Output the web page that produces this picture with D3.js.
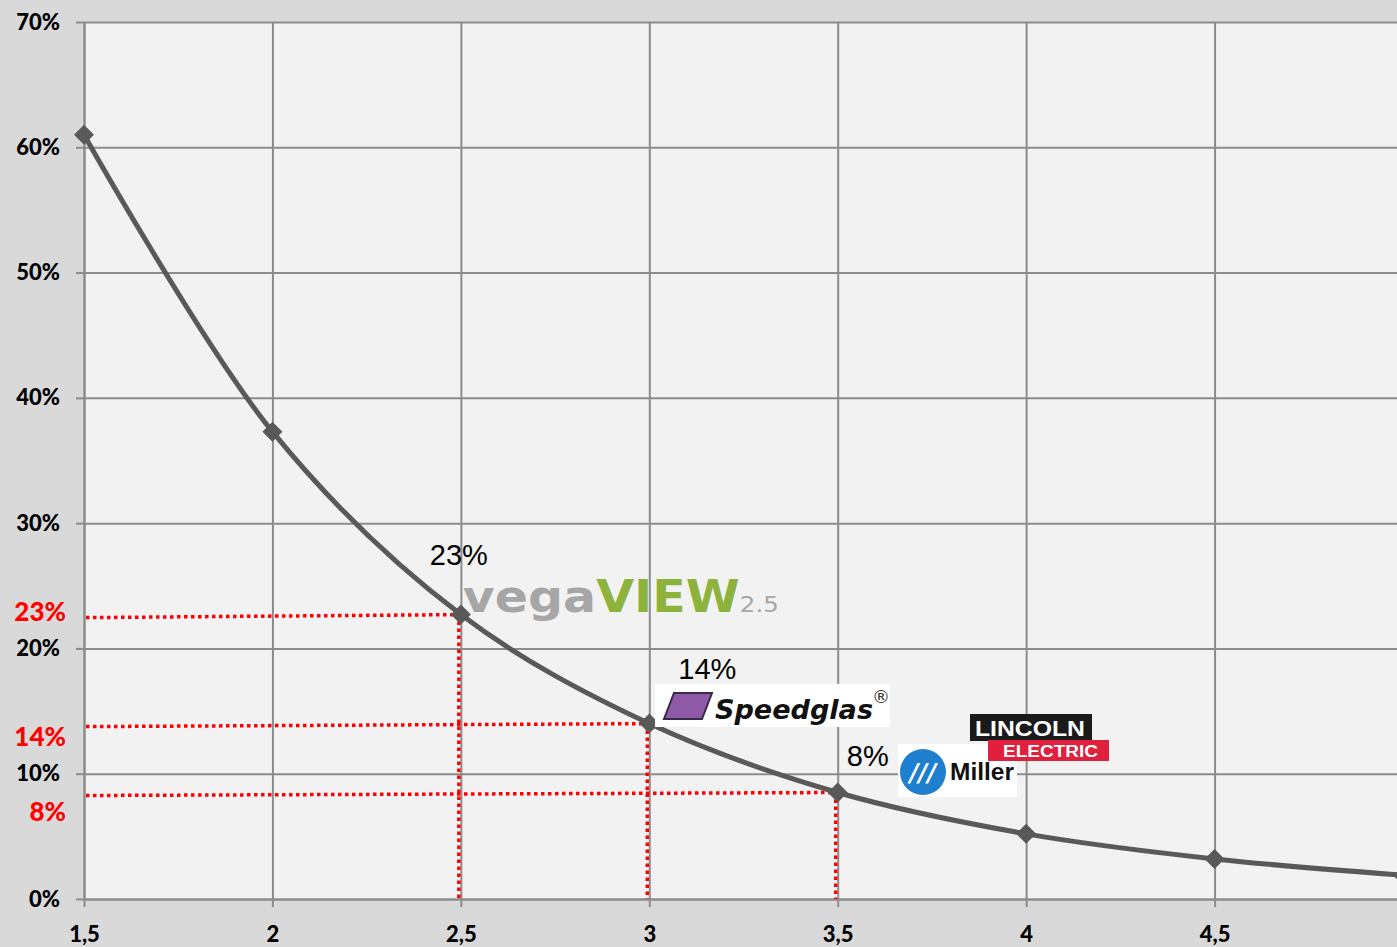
<!DOCTYPE html>
<html>
<head>
<meta charset="utf-8">
<script src="https://cdn.jsdelivr.net/npm/d3@7"></script>
<style>
    body { margin: 0; background: #d9d9d9; }
    svg { display: block; }
</style>
</head>
<body>
<svg id="vis" width="1397" height="947"></svg>
<script>
// chart values
const xValues = [1.5, 2, 2.5, 3, 3.5, 4, 4.5, 5];
const yValues = [0.61, 0.373, 0.227, 0.14, 0.085, 0.052, 0.032, 0.019];
const xTicks = [1.5, 2, 2.5, 3, 3.5, 4, 4.5];
const yTicks = [0, 0.1, 0.2, 0.3, 0.4, 0.5, 0.6, 0.7];

// highlighted points: index into the series, the red label on the axis
const markIndex = [2, 3, 4];
const markLabels = ["23%", "14%", "8%"];

const MARGINS = {top: 22, left: 84, bottom: 48};
const WIDTH = 1397, HEIGHT = 947;

const svg = d3.select("#vis");

const x = d3.scaleLinear().domain([1.5, 5]).range([MARGINS.left, 1403]);
const y = d3.scaleLinear().domain([0, 0.7]).range([HEIGHT - MARGINS.bottom, MARGINS.top]);

const plotW = x(5) - x(1.5);
const plotH = y(0) - y(0.7);

// plot background
svg.append("rect")
    .attr("x", x(1.5)).attr("y", y(0.7))
    .attr("width", plotW).attr("height", plotH)
    .attr("fill", "#f2f2f2");

const fmtX = d => d3.format(".1~f")(d).replace(".", ",");
const fmtY = d3.format(".0%");

// gridlines
const gridY = svg.append("g")
    .attr("transform", `translate(${x(1.5)},0)`)
    .call(d3.axisLeft(y).tickValues(yTicks).tickSize(-plotW).tickFormat(""));
const gridX = svg.append("g")
    .attr("transform", `translate(0,${y(0)})`)
    .call(d3.axisBottom(x).tickValues(xTicks).tickSize(-plotH).tickFormat(""));
[gridY, gridX].forEach(g => {
    g.select(".domain").remove();
    g.selectAll("line").attr("stroke", "#8c8c8c").attr("stroke-width", 2);
});

// axes with short ticks and labels
const yAxis = svg.append("g")
    .attr("transform", `translate(${x(1.5)},0)`)
    .call(d3.axisLeft(y).tickValues(yTicks).tickSize(8).tickPadding(16).tickSizeOuter(0).tickFormat(fmtY));
const xAxis = svg.append("g")
    .attr("transform", `translate(0,${y(0)})`)
    .call(d3.axisBottom(x).tickValues(xTicks).tickSize(8).tickPadding(19).tickSizeOuter(0).tickFormat(fmtX));
[yAxis, xAxis].forEach(g => {
    g.select(".domain").attr("stroke", "#8c8c8c").attr("stroke-width", 2);
    g.selectAll("line").attr("stroke", "#8c8c8c").attr("stroke-width", 2);
    g.selectAll("text")
        .attr("fill", "#000")
        .style("font-family", "Lato, 'Open Sans', sans-serif")
        .style("font-weight", "900")
        .style("font-size", "22px");
});

// red dotted guide lines
const guides = svg.append("g");
markIndex.forEach(function(i){
    guides.append("line")
        .attr("x1", x(1.5) + 2).attr("x2", x(xValues[i]))
        .attr("y1", y(yValues[i]) + 3).attr("y2", y(yValues[i]))
        .attr("stroke", "#ff0000").attr("stroke-width", 3.5)
        .attr("stroke-dasharray", "3.5,3.5");
    guides.append("line")
        .attr("x1", x(xValues[i]) - 2).attr("x2", x(xValues[i]) - 2)
        .attr("y1", y(yValues[i])).attr("y2", y(0))
        .attr("stroke", "#ff0000").attr("stroke-width", 3.5)
        .attr("stroke-dasharray", "3.5,3.5");
});

// red axis labels (offsets below the guide lines as in the original)
const redOffset = [-3, 13, 19];
markIndex.forEach(function(i, k){
    svg.append("text")
        .attr("x", 66).attr("y", y(yValues[i]) + redOffset[k])
        .attr("dy", "0.36em")
        .attr("text-anchor", "end")
        .attr("fill", "#ff0000")
        .style("font-family", "Lato, 'Open Sans', sans-serif")
        .style("font-weight", "900")
        .style("font-size", "26px")
        .text(markLabels[k]);
});

// the curve
const points = xValues.map((d, i) => [x(d), y(yValues[i])]);
svg.append("path")
    .datum(points)
    .attr("d", d3.line().curve(d3.curveCatmullRom.alpha(0.5)))
    .attr("fill", "none")
    .attr("stroke", "#595959")
    .attr("stroke-width", 5);

svg.selectAll("path.marker")
    .data(points)
    .enter()
    .append("path")
    .attr("class", "marker")
    .attr("d", d3.symbol(d3.symbolSquare, 200))
    .attr("transform", d => `translate(${d[0]},${d[1]}) rotate(45)`)
    .attr("fill", "#595959");

// data labels
const dataLabelPos = [[-2, -60], [58, -55], [30, -37]];
markIndex.forEach(function(i, k){
    svg.append("text")
        .attr("x", x(xValues[i]) + dataLabelPos[k][0])
        .attr("y", y(yValues[i]) + dataLabelPos[k][1])
        .attr("dy", "0.36em")
        .attr("text-anchor", "middle")
        .attr("fill", "#000")
        .style("font-family", "'Liberation Sans', Arial, sans-serif")
        .style("font-size", "29px")
        .text(markLabels[k]);
});

// brand marks
const logos = svg.append("g");

// vegaview 2.5
const vega = logos.append("text")
    .attr("x", x(2.5) + 2).attr("y", 612)
    .style("font-family", "'DejaVu Sans', sans-serif")
    .style("font-weight", "bold")
    .style("font-size", "44px")
    .attr("textLength", 316)
    .attr("lengthAdjust", "spacingAndGlyphs");
vega.append("tspan").attr("fill", "#a6a6a6").text("vega");
vega.append("tspan").attr("fill", "#8db33c").text("VIEW");
vega.append("tspan").attr("fill", "#a6a6a6").style("font-size", "22px").style("font-weight", "normal").text("2.5");

// Speedglas
logos.append("rect").attr("x", 655).attr("y", 684).attr("width", 235).attr("height", 43).attr("fill", "#ffffff");
logos.append("path")
    .attr("d", "M674,693 L712,693 L702,719 L664,719 Z")
    .attr("fill", "#8e5aa8").attr("stroke", "#3a2a45").attr("stroke-width", 2);
logos.append("text")
    .attr("x", 715).attr("y", 719)
    .style("font-family", "'DejaVu Sans', sans-serif")
    .style("font-weight", "bold").style("font-style", "italic")
    .style("font-size", "26px")
    .attr("textLength", 158).attr("lengthAdjust", "spacingAndGlyphs")
    .attr("fill", "#111")
    .text("Speedglas");
logos.append("text")
    .attr("x", 872).attr("y", 703)
    .style("font-family", "'DejaVu Sans', sans-serif")
    .style("font-size", "18px")
    .attr("fill", "#333")
    .text("®");

// Miller
logos.append("rect").attr("x", 898).attr("y", 744).attr("width", 119).attr("height", 53).attr("fill", "#ffffff");
logos.append("circle").attr("cx", 923).attr("cy", 772).attr("r", 23).attr("fill", "#1f7fcf");
logos.append("text")
    .attr("x", 923).attr("y", 781)
    .attr("text-anchor", "middle")
    .style("font-family", "'DejaVu Sans', sans-serif")
    .style("font-weight", "bold").style("font-style", "italic")
    .style("font-size", "24px")
    .attr("fill", "#ffffff")
    .text("///");
logos.append("text")
    .attr("x", 950).attr("y", 780)
    .style("font-family", "'Liberation Sans', Arial, sans-serif")
    .style("font-weight", "bold")
    .style("font-size", "23px")
    .attr("textLength", 64).attr("lengthAdjust", "spacingAndGlyphs")
    .attr("fill", "#111")
    .text("Miller");

// Lincoln Electric
logos.append("rect").attr("x", 970).attr("y", 714).attr("width", 122).attr("height", 27).attr("fill", "#1a1a1a");
logos.append("rect").attr("x", 988).attr("y", 740).attr("width", 121).attr("height", 21).attr("fill", "#e0203c");
logos.append("text")
    .attr("x", 975).attr("y", 736)
    .style("font-family", "'Liberation Sans', Arial, sans-serif")
    .style("font-weight", "bold")
    .style("font-size", "22px")
    .attr("textLength", 110).attr("lengthAdjust", "spacingAndGlyphs")
    .attr("fill", "#ffffff")
    .text("LINCOLN");
logos.append("text")
    .attr("x", 1003).attr("y", 757)
    .style("font-family", "'Liberation Sans', Arial, sans-serif")
    .style("font-weight", "bold")
    .style("font-size", "16px")
    .attr("textLength", 95).attr("lengthAdjust", "spacingAndGlyphs")
    .attr("fill", "#ffffff")
    .text("ELECTRIC");
</script>
</body>
</html>
